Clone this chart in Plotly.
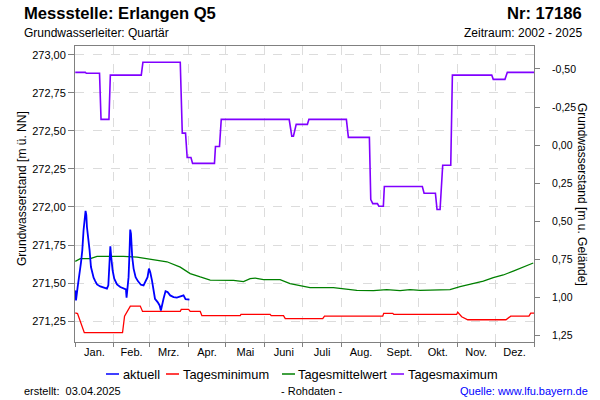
import numpy as np
import pandas as pd
import plotly.graph_objects as go

# ---------------- Daten (Tag im Jahr, 0 = 1. Januar) ----------------
monate = ["Jan.", "Feb.", "Mrz.", "Apr.", "Mai", "Juni", "Juli", "Aug.", "Sept.", "Okt.", "Nov.", "Dez."]
y_links_ticks = [271.25, 271.50, 271.75, 272.00, 272.25, 272.50, 272.75, 273.00]
y_rechts_ticks = [-0.50, -0.25, 0.00, 0.25, 0.50, 0.75, 1.00, 1.25]
gelaende = 272.406  # Geländehöhe [m ü. NN]

aktuell_tag = [0.2, 0.8, 2.1, 3.4, 4.8, 5.8, 6.8, 8.4, 9.0, 9.5, 10.8, 11.6, 12.7, 13.7, 14.8, 16.1, 17.5,
               20.1, 22.7, 25.4, 26.5, 27.3, 28.1, 28.8, 29.9, 31.2, 33.4, 36, 38.6, 40.5, 41, 41.6, 42.6,
               43.4, 43.9, 44.5, 45.5, 46.6, 48.2, 50, 52.4, 54.5, 56.1, 57.7, 58.8, 59.8, 61.2, 62.5, 63.6,
               65.7, 67.3, 68.3, 69.4, 70.4, 72, 73.6, 75.7, 78.4, 81, 83.7, 86.3, 87.9, 89.5, 91]
aktuell_wert = [271.452, 271.386, 271.474, 271.539, 271.638, 271.715, 271.847, 271.974, 271.946, 271.868,
                271.781, 271.715, 271.605, 271.572, 271.535, 271.513, 271.491, 271.478, 271.47, 271.463,
                271.485, 271.584, 271.741, 271.671, 271.584, 271.529, 271.491, 271.474, 271.465, 271.459,
                271.404, 271.463, 271.539, 271.715, 271.851, 271.825, 271.671, 271.595, 271.539, 271.513,
                271.489, 271.485, 271.518, 271.539, 271.595, 271.572, 271.518, 271.452, 271.397, 271.375,
                271.353, 271.32, 271.375, 271.397, 271.447, 271.441, 271.419, 271.408, 271.404, 271.413,
                271.419, 271.395, 271.391, 271.391]

min_tag = [0.2, 2, 7.4, 37.8, 39.4, 41.3, 44, 51.9, 53.7, 83.7, 84.5, 90.3, 91.6, 99.6, 100.9, 131.4, 132,
           155.2, 156, 165.8, 167.2, 197, 198.4, 244.7, 245.5, 252.7, 253.5, 303.5, 304.3, 307.5, 312.3,
           342.7, 346.5, 361, 362.4, 365]
min_wert = [271.305, 271.30, 271.174, 271.174, 271.283, 271.309, 271.349, 271.349, 271.314, 271.314,
            271.327, 271.327, 271.314, 271.314, 271.286, 271.286, 271.294, 271.294, 271.286, 271.286,
            271.266, 271.266, 271.283, 271.283, 271.301, 271.301, 271.294, 271.294, 271.309, 271.279,
            271.259, 271.259, 271.283, 271.283, 271.303, 271.303]

mittel_tag = [0.2, 4.2, 12.2, 17.5, 30.7, 38.6, 49.3, 57.2, 65.2, 73.1, 83.7, 91.6, 99.6, 107.5, 126, 134,
              139.3, 143.3, 149.9, 163.1, 171, 179, 186.9, 205.5, 213.4, 224.1, 237.3, 247.9, 258.5, 266.4,
              274.4, 298.2, 306.2, 316.7, 324.7, 332.6, 340.6, 348.5, 356.5, 364.4]
mittel_wert = [271.643, 271.66, 271.66, 271.676, 271.676, 271.676, 271.671, 271.66, 271.649, 271.64,
               271.605, 271.562, 271.54, 271.52, 271.518, 271.509, 271.529, 271.533, 271.522, 271.522,
               271.496, 271.483, 271.47, 271.47, 271.461, 271.452, 271.45, 271.457, 271.45, 271.457,
               271.452, 271.457, 271.476, 271.496, 271.513, 271.536, 271.553, 271.579, 271.605, 271.632]

max_tag = [0.2, 8.2, 9.0, 19.5, 20.7, 27.0, 28.1, 52.7, 54.0, 83.7, 85.3, 87.9, 89.2, 92.2, 93.5, 110.9,
           111.7, 114.9, 116.3, 170.3, 172.4, 173.7, 175.9, 184.8, 186.0, 215.8, 217.4, 234.1, 235.2, 236.8,
           240.5, 241.6, 245.2, 246.0, 276.2, 277.6, 286.6, 287.9, 290.3, 292.4, 298.8, 300.1, 331.4,
           332.6, 341.9, 343.8, 365]
max_wert = [272.884, 272.884, 272.878, 272.878, 272.575, 272.575, 272.866, 272.866, 272.95, 272.95,
            272.485, 272.485, 272.325, 272.325, 272.286, 272.286, 272.397, 272.397, 272.575, 272.575,
            272.465, 272.465, 272.542, 272.542, 272.575, 272.575, 272.457, 272.457, 272.049, 272.022,
            272.022, 272.005, 272.005, 272.134, 272.134, 272.09, 272.09, 271.983, 271.983, 272.274,
            272.274, 272.866, 272.866, 272.838, 272.838, 272.884, 272.884]

# ---------------- Aufbau ----------------
FONT = "Liberation Sans, Arial, sans-serif"
basis = pd.Timestamp("2025-01-01")


def datum(tage):
    return basis + pd.to_timedelta(np.asarray(tage, dtype=float), unit="D")


def fmt(v):
    return f"{v:.2f}".replace(".", ",")


monatsanfang = pd.date_range("2025-01-01", periods=13, freq="MS")
monatsmitte = monatsanfang[:-1] + (monatsanfang[1:] - monatsanfang[:-1]) / 2

fig = go.Figure()
serien = [
    ("Tagesminimum", min_tag, min_wert, "#ff0000", 1.3),
    ("Tagesmittelwert", mittel_tag, mittel_wert, "#008000", 1.3),
    ("Tagesmaximum", max_tag, max_wert, "#8000ff", 1.6),
    ("aktuell", aktuell_tag, aktuell_wert, "#0000ff", 1.8),
]
for name, t, w, farbe, breite in serien:
    fig.add_trace(go.Scatter(x=datum(t), y=w, mode="lines", name=name,
                             line=dict(color=farbe, width=breite), showlegend=False))
# Leere Spur für die rechte Achse
fig.add_trace(go.Scatter(x=[], y=[], yaxis="y2", showlegend=False))

y_unten, y_oben = 271.113, 273.057
achsfarbe = "#808080"
gridfarbe = "#dcdcdc"

fig.update_layout(
    width=600, height=400,
    margin=dict(l=75, r=66, t=46, b=58),
    paper_bgcolor="white", plot_bgcolor="white",
    font=dict(family=FONT, size=11, color="black"),
    xaxis=dict(
        type="date", range=[monatsanfang[0], monatsanfang[-1]],
        tickmode="array", tickvals=monatsmitte, ticktext=monate, ticks="",
        showgrid=False, showline=True, linecolor=achsfarbe, linewidth=1, mirror=True,
        tickfont=dict(size=11), zeroline=False,
        minor=dict(tickmode="array", tickvals=list(monatsanfang), ticks="outside", ticklen=4,
                   tickcolor=achsfarbe, showgrid=True, gridcolor=gridfarbe, griddash="dash", gridwidth=1),
    ),
    yaxis=dict(
        range=[y_unten, y_oben], tickmode="array", tickvals=y_links_ticks,
        ticktext=[fmt(v) for v in y_links_ticks], ticks="outside", ticklen=6, tickcolor=achsfarbe,
        showgrid=True, gridcolor=gridfarbe, griddash="dash", gridwidth=1,
        showline=True, linecolor=achsfarbe, linewidth=1, mirror=True, zeroline=False,
        tickfont=dict(size=11),
    ),
    yaxis2=dict(
        overlaying="y", side="right",
        range=[gelaende - y_unten, gelaende - y_oben], tickmode="array", tickvals=y_rechts_ticks,
        ticktext=[fmt(v) for v in y_rechts_ticks], ticks="outside", ticklen=5, tickcolor=achsfarbe,
        showgrid=False, showline=True, linecolor=achsfarbe, linewidth=1, zeroline=False,
        tickfont=dict(size=10.5), ticklabelstandoff=10,
    ),
)


def px_x(px):
    return (px - 75) / 459


def px_y(py):
    return (342 - py) / 296


anmerkungen = [
    dict(text="<b>Messstelle: Erlangen Q5</b>", x=px_x(22), y=px_y(13), xanchor="left", size=16.6),
    dict(text="Grundwasserleiter: Quartär", x=px_x(22), y=px_y(33), xanchor="left", size=12),
    dict(text="<b>Nr: 17186</b>", x=px_x(584), y=px_y(13), xanchor="right", size=16.6),
    dict(text="Zeitraum: 2002 - 2025", x=px_x(584), y=px_y(33), xanchor="right", size=12),
    dict(text="erstellt:\u00a0\u00a003.04.2025", x=px_x(22), y=px_y(391), xanchor="left", size=11),
    dict(text="- Rohdaten -", x=px_x(311), y=px_y(391), xanchor="center", size=11),
    dict(text="Quelle: www.lfu.bayern.de", x=px_x(590), y=px_y(391), xanchor="right", size=11,
         color="#0000ff"),
    dict(text="Grundwasserstand [m ü. NN]", x=px_x(22), y=px_y(189), xanchor="center", size=12,
         angle=-90),
    dict(text="Grundwasserstand [m u. Gelände]", x=px_x(582), y=px_y(194), xanchor="center", size=12,
         angle=90),
]

# Legende: farbiger Strich (Layout-Form) + Name je Reihe
legende_y = 374
legende = [("aktuell", "#0000ff", 106, 123),
           ("Tagesminimum", "#ff0000", 166, 183),
           ("Tagesmittelwert", "#008000", 282, 298),
           ("Tagesmaximum", "#8000ff", 391, 408)]
for name, farbe, strich_x, text_x in legende:
    fig.add_shape(type="line", xref="paper", yref="paper",
                  x0=px_x(strich_x), x1=px_x(strich_x + 13), y0=px_y(legende_y), y1=px_y(legende_y),
                  line=dict(color=farbe, width=1.5))
    anmerkungen.append(dict(text=name, x=px_x(text_x - 2), y=px_y(legende_y), xanchor="left", size=12.8))

for a in anmerkungen:
    fig.add_annotation(text=a["text"], x=a["x"], y=a["y"], xref="paper", yref="paper",
                       xanchor=a["xanchor"], yanchor="middle", showarrow=False,
                       textangle=a.get("angle", 0),
                       font=dict(family=FONT, size=a["size"], color=a.get("color", "black")))

fig.write_html("out.html")
